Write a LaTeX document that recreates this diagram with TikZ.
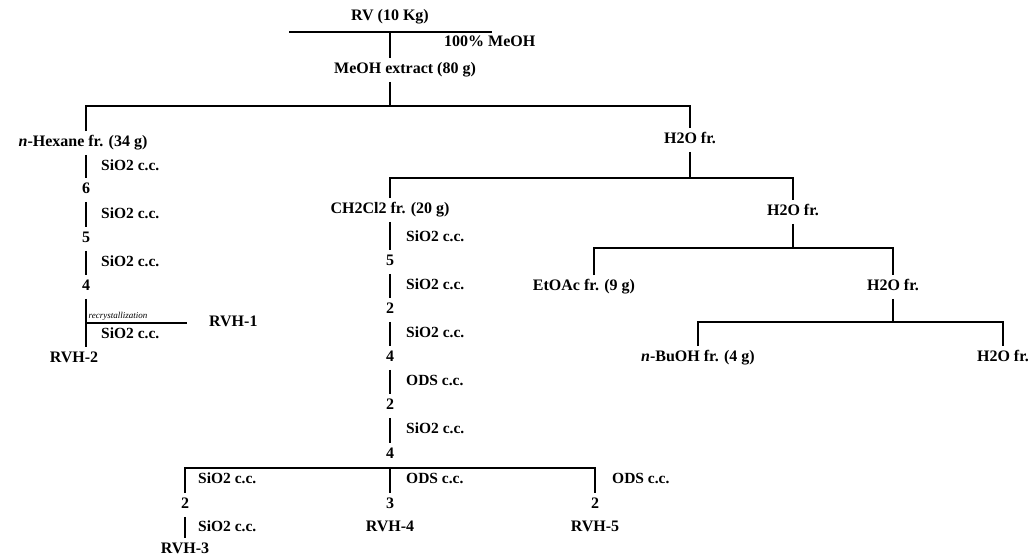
\documentclass[tikz,border=0pt]{standalone}
\usepackage{fontspec}
\setmainfont{Liberation Serif}
\begin{document}
\begin{tikzpicture}[x=1pt,y=-1pt,
  every node/.style={inner xsep=1pt, inner ysep=4.5pt, text height=11pt, text depth=3.5pt},
  nm/.style={font=\fontsize{16}{18}\selectfont\bfseries},
  cc/.style={font=\fontsize{15.5}{18}\selectfont\bfseries, anchor=west},
  ln/.style={line width=1.4pt}]
\useasboundingbox (0,0) rectangle (1031,557);
% top
\node[nm] (rv) at (390,17) {RV (10 Kg)};
\coordinate (b0l) at (289,32);
\coordinate (b0r) at (492,32);
\node[nm,anchor=west] (meoh) at (443,43) {100\% MeOH};
\node[nm] (ext) at (405,70) {MeOH extract (80 g)};
\coordinate (bar1) at (0,106);
\node[nm] (hex) at (83,143) {\textit{n}-Hexane fr. (34 g)};
\node[nm] (wA) at (690,140) {H2O fr.};
\coordinate (bar2) at (0,178);
\node[nm] (ch) at (390,210) {CH2Cl2 fr. (20 g)};
\node[nm] (wB) at (793,212) {H2O fr.};
\coordinate (bar3) at (0,248);
\node[nm] (et) at (584,287) {EtOAc fr. (9 g)};
\coordinate (etx) at (594,0);
\node[nm] (wC) at (893,287) {H2O fr.};
\coordinate (bar4) at (0,322);
\node[nm] (bu) at (698,358) {\textit{n}-BuOH fr. (4 g)};
\node[nm] (wD) at (1003,358) {H2O fr.};
% left column
\node[nm] (l6) at (86,190) {6};
\node[nm] (l5) at (86,239) {5};
\node[nm] (l4) at (86,287) {4};
\node[nm] (rvh2) at (74,359) {RVH-2};
\coordinate (rc) at (187,323);
\node[nm,anchor=west] (rvh1) at (208,323) {RVH-1};
\node[cc] (la1) at (100,167) {SiO2 c.c.};
\node[cc] (la2) at (100,215) {SiO2 c.c.};
\node[cc] (la3) at (100,263) {SiO2 c.c.};
\node[cc] (la4) at (100,335) {SiO2 c.c.};
\node[font=\fontsize{9}{10}\selectfont\itshape, anchor=south west, inner sep=0.5pt, text height=5.5pt, text depth=1.5pt] (rx) at (88,321) {recrystallization};
% middle column
\node[nm] (c5) at (390,262) {5};
\node[nm] (c2) at (390,310) {2};
\node[nm] (c4) at (390,358) {4};
\node[nm] (c2b) at (390,406) {2};
\node[nm] (c4b) at (390,455) {4};
\node[cc] (ma1) at (405,238) {SiO2 c.c.};
\node[cc] (ma2) at (405,286) {SiO2 c.c.};
\node[cc] (ma3) at (405,334) {SiO2 c.c.};
\node[cc] (ma4) at (405,382) {ODS c.c.};
\node[cc] (ma5) at (405,430) {SiO2 c.c.};
\coordinate (bar5) at (0,468);
\node[nm] (d2) at (185,505) {2};
\node[nm] (d3) at (390,505) {3};
\node[nm] (d2b) at (595,505) {2};
\node[nm] (rvh3) at (185,550) {RVH-3};
\node[nm] (rvh4) at (390,528) {RVH-4};
\node[nm] (rvh5) at (595,528) {RVH-5};
\node[cc] (ba1) at (197,480) {SiO2 c.c.};
\node[cc] (ba2) at (405,480) {ODS c.c.};
\node[cc] (ba3) at (611,480) {ODS c.c.};
\node[cc] (ba4) at (197,528) {SiO2 c.c.};
% lines
\draw[ln] (b0l) -- (b0r);
\draw[ln] (rv |- b0l) -- (rv |- ext.north);
\draw[ln] (rv |- ext.south) -- (rv |- bar1);
\draw[ln] (l6 |- hex.north) -- (l6 |- bar1) -- (wA |- bar1) -- (wA.north);
\draw[ln] (wA.south) -- (wA |- bar2);
\draw[ln] (ch.north) -- (ch |- bar2) -- (wB |- bar2) -- (wB.north);
\draw[ln] (wB.south) -- (wB |- bar3);
\draw[ln] (etx |- et.north) -- (etx |- bar3) -- (wC |- bar3) -- (wC.north);
\draw[ln] (wC.south) -- (wC |- bar4);
\draw[ln] (bu.north) -- (bu |- bar4) -- (wD |- bar4) -- (wD.north);
\draw[ln] (l6 |- hex.south) -- (l6.north);
\draw[ln] (l6.south) -- (l5.north);
\draw[ln] (l5.south) -- (l4.north);
\draw[ln] (l4.south) -- (l4 |- rvh2.north);
\draw[ln] (l4 |- rc) -- (rc);
\draw[ln] (ch.south) -- (c5.north);
\draw[ln] (c5.south) -- (c2.north);
\draw[ln] (c2.south) -- (c4.north);
\draw[ln] (c4.south) -- (c2b.north);
\draw[ln] (c2b.south) -- (c4b.north);
\draw[ln] (c4b.south) -- (c4b |- bar5);
\draw[ln] (d2.north) -- (d2 |- bar5) -- (d2b |- bar5) -- (d2b.north);
\draw[ln] (d3.north) -- (d3 |- bar5);
\draw[ln] (d2.south) -- (rvh3.north);
\end{tikzpicture}
\end{document}
